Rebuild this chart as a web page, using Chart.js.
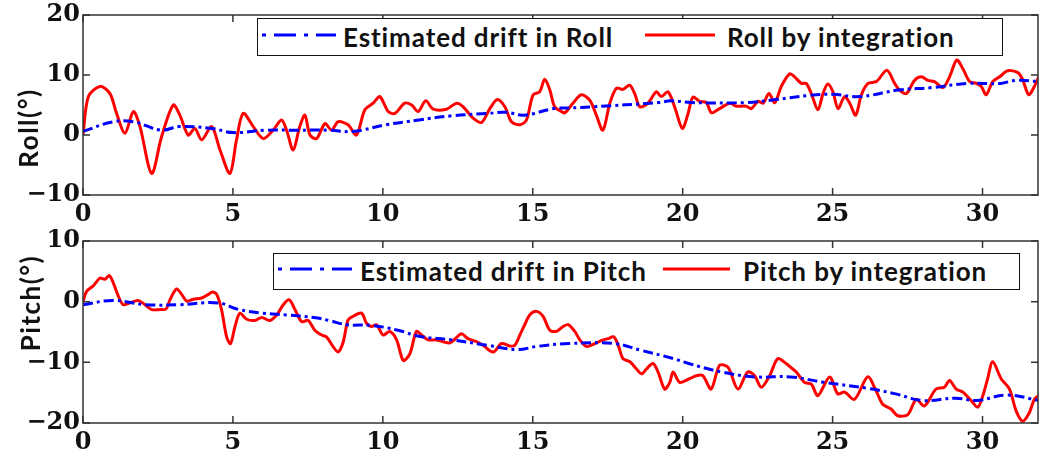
<!DOCTYPE html>
<html>
<head>
<meta charset="utf-8">
<script src="https://cdn.jsdelivr.net/npm/chart.js@4.4.0/dist/chart.umd.min.js"></script>
<style>
  body { margin: 0; background: #fff; }
  #wrap { position: relative; width: 1042px; height: 459px; overflow: hidden; }
  #wrap canvas { position: absolute; left: 0; top: 0; }
  .legend { position: absolute; border: 1.5px solid #111; background: #fff; box-sizing: border-box; z-index: 2; }
  .item { position: absolute; z-index: 3; font: bold 26px Lato, sans-serif; letter-spacing: 0.9px; color: #111; white-space: nowrap; line-height: 1; }
  .sample { position: absolute; z-index: 3; }
  .ytitle { position: absolute; width: 200px; height: 30px; display: flex; align-items: center; justify-content: center;
            font: bold 26px Lato, sans-serif; letter-spacing: 1.5px; color: #111; transform: rotate(-90deg); white-space: nowrap; }
</style>
</head>
<body>
<div id="wrap">
  <canvas id="rollChart" width="1042" height="459"></canvas>
  <canvas id="pitchChart" width="1042" height="459"></canvas>

  <div class="ytitle" style="left:-72px; top:113px;">Roll(°)</div>
  <div class="ytitle" style="left:-70px; top:288px;">Pitch(°)</div>

  <div class="legend" style="left:257px; top:18px; width:746px; height:38px;"></div>
  <svg class="sample" style="left:262px; top:30px;" width="74" height="10"><line x1="0" y1="5" x2="74" y2="5" stroke="#0000ff" stroke-width="3" stroke-dasharray="4 8 22 8"/></svg>
  <div class="item" style="left:343px; top:24px;">Estimated drift in Roll</div>
  <svg class="sample" style="left:645px; top:30px;" width="70" height="10"><line x1="0" y1="5" x2="70" y2="5" stroke="#ff0000" stroke-width="3"/></svg>
  <div class="item" style="left:727px; top:24px;">Roll by integration</div>

  <div class="legend" style="left:273px; top:253px; width:747px; height:37px;"></div>
  <svg class="sample" style="left:278px; top:264px;" width="74" height="10"><line x1="0" y1="5" x2="74" y2="5" stroke="#0000ff" stroke-width="3" stroke-dasharray="4 8 22 8"/></svg>
  <div class="item" style="left:360px; top:258px;">Estimated drift in Pitch</div>
  <svg class="sample" style="left:663px; top:264px;" width="67" height="10"><line x1="0" y1="5" x2="67" y2="5" stroke="#ff0000" stroke-width="3"/></svg>
  <div class="item" style="left:743px; top:258px;">Pitch by integration</div>
</div>

<script>
// Time axis (s) and values (deg)
const rollIntT = [0, 0.18, 0.57, 0.9, 1.12, 1.4, 1.68, 1.9, 2.29, 2.62, 3.01, 3.23, 3.51, 3.73, 3.96, 4.29, 4.57, 4.9,
  5.12, 5.34, 5.68, 6.01, 6.34, 6.62, 6.79, 7.01, 7.23, 7.4, 7.57, 7.79, 8.07, 8.29, 8.51, 8.84, 9.12, 9.4, 9.68, 9.9,
  10.18, 10.4, 10.73, 10.96, 11.18, 11.43, 11.68, 12.12, 12.46, 12.68, 13.01, 13.29, 13.57, 13.82, 14.07, 14.29, 14.57,
  14.79, 15.01, 15.23, 15.4, 15.57, 15.73, 15.96, 16.07, 16.34, 16.62, 16.9, 17.12, 17.34, 17.57, 17.79, 18.01, 18.23,
  18.4, 18.57, 18.84, 19.12, 19.29, 19.51, 19.73, 19.99, 20.18, 20.34, 20.57, 20.79, 20.96, 21.23, 21.57, 21.79, 22.12,
  22.29, 22.51, 22.68, 22.88, 23.07, 23.29, 23.57, 23.73, 23.96, 24.12, 24.29, 24.51, 24.68, 24.84, 25.01, 25.18, 25.4,
  25.57, 25.77, 25.96, 26.18, 26.46, 26.81, 27.07, 27.23, 27.46, 27.73, 27.96, 28.18, 28.4, 28.68, 28.9, 29.14, 29.34,
  29.57, 29.79, 29.96, 30.12, 30.34, 30.57, 30.84, 31.18, 31.34, 31.54, 31.73, 31.9];
const rollInt = [0, 6.4, 8.1, 6.9, 3.6, 0.3, 3.9, 1.4, -6.4, -0.3, 5.0, 3.3, 0, 1.1, -0.8, 1.4, -2.5, -6.4,
  -0.8, 3.6, 1.4, -0.6, 0.8, 2.5, 0.8, -2.5, 1.4, 3.3, 0, -0.6, 1.9, 0.8, 2.2, 1.7, 0, 4.2, 5.3, 6.4,
  3.9, 3.6, 5.3, 5.0, 3.9, 5.7, 4.3, 4.3, 5.3, 4.7, 2.8, 2.1, 4.4, 5.9, 4.7, 2.2, 1.7,
  2.5, 6.7, 7.2, 9.3, 7.5, 4.7, 3.9, 3.7, 5.3, 6.7, 5.8, 3.3, 0.8, 5.3, 7.8, 7.6, 8.3,
  6.9, 4.7, 5.3, 7.2, 6.4, 7.2, 4.7, 1.1, 3.6, 6.3, 5.6, 5.4, 3.7, 4.4, 5.3, 4.8, 4.8,
  4.4, 5.6, 5.3, 6.9, 5.4, 8.1, 10.2, 9.7, 8.6, 8.6, 6.9, 4.2, 6.9, 8.5, 7.2, 4.4, 6.4,
  5.3, 3.3, 6.7, 8.6, 8.9, 10.8, 8.6, 7.5, 6.9, 9.1, 9.7, 9.1, 8.9, 7.9, 9.7, 12.5, 11.1,
  8.9, 8.6, 8.1, 6.7, 8.9, 9.7, 10.7, 10.4, 9.2, 6.7, 8.1, 10.0];

const rollDriftT = [0, 1.0, 1.7, 2.6, 3.2, 4.3, 5.0, 6.1, 7.1, 8.2, 9.0, 10.1, 11.2, 12.3, 13.5, 14.1, 14.7, 15.7,
  16.2, 17.0, 19.2, 19.6, 20.3, 22.1, 23.1, 24.2, 25.0, 25.9, 27.2, 28.3, 29.5, 30.6, 31.1, 31.9];
const rollDrift = [0.6, 2.2, 2.2, 0.8, 1.4, 1.1, 0.4, 0.8, 0.8, 0.8, 0.6, 1.7, 2.5, 3.2, 3.6, 3.8, 3.3, 4.4,
  4.5, 4.7, 5.4, 5.7, 5.4, 5.4, 5.9, 6.6, 6.8, 6.4, 7.5, 7.9, 8.6, 8.6, 9.1, 8.9];

const pitchIntT = [0, 0.12, 0.34, 0.57, 0.73, 0.88, 1.01, 1.18, 1.34, 1.57, 1.84, 2.07, 2.29, 2.57, 2.77, 2.9, 3.12,
  3.29, 3.46, 3.68, 3.96, 4.18, 4.32, 4.46, 4.62, 4.79, 4.92, 5.07, 5.23, 5.46, 5.73, 5.96, 6.23, 6.46, 6.68, 6.88,
  7.07, 7.29, 7.51, 7.73, 7.96, 8.12, 8.34, 8.51, 8.68, 8.84, 9.01, 9.29, 9.46, 9.62, 9.79, 10.01, 10.23, 10.46,
  10.68, 10.9, 11.12, 11.29, 11.51, 11.79, 12.01, 12.23, 12.4, 12.62, 12.84, 13.12, 13.34, 13.68, 13.96, 14.23,
  14.4, 14.57, 14.73, 14.9, 15.12, 15.34, 15.57, 15.79, 16.01, 16.18, 16.4, 16.57, 16.79, 17.07, 17.35, 17.51,
  17.7, 17.85, 18.01, 18.24, 18.46, 18.63, 18.79, 19.01, 19.18, 19.4, 19.57, 19.68, 19.9, 20.23, 20.45, 20.67,
  20.95, 21.23, 21.51, 21.84, 22.17, 22.4, 22.62, 22.9, 23.17, 23.45, 23.67, 23.79, 24.06, 24.29, 24.51, 24.9,
  25.17, 25.4, 25.73, 26.17, 26.45, 26.67, 26.95, 27.17, 27.51, 27.79, 28.06, 28.45, 28.73, 28.9, 29.12, 29.34,
  29.62, 29.84, 30.01, 30.17, 30.34, 30.62, 30.9, 31.12, 31.34, 31.56, 31.73, 31.96];
const pitchInt = [0, 1.7, 2.6, 3.9, 3.7, 4.3, 3.1, 0.9, -0.5, -0.2, 0.2, -0.5, -1.3, -1.3, -1.2, 0.3, 2.1,
  1.2, 0.1, 0.4, 0.6, 1.2, 1.6, 1.2, -1.3, -5.8, -6.9, -4.1, -1.9, -2.9, -3.1, -2.6, -3.1, -2.2, -0.5, 0.3,
  -1.3, -3.3, -3.1, -4.7, -5.5, -5.8, -7.4, -8.3, -6.6, -3.0, -2.4, -1.9, -3.6, -4.1, -3.8, -5.5, -4.9, -6.3,
  -9.7, -8.6, -4.9, -5.5, -6.3, -6.3, -6.6, -6.8, -6.2, -5.3, -6.1, -6.6, -7.2, -8.3, -6.9, -7.3,
  -7.2, -5.5, -3.8, -2.2, -1.6, -2.4, -4.7, -4.9, -4.1, -3.8, -4.9, -6.3, -7.4, -6.9, -6.3, -6.1,
  -5.8, -7.2, -9.4, -9.9, -11.1, -11.9, -11.1, -10.2, -11.6, -14.4, -13.3, -11.6, -13.3, -12.7, -12.2, -12.2,
  -14.4, -10.5, -10.8, -14.4, -11.6, -12.2, -14.1, -12.2, -9.4, -10.2, -11.1, -11.6, -13.3, -13.6, -15.5, -12.4,
  -15.2, -14.9, -16.1, -12.4, -14.7, -16.9, -17.7, -18.8, -18.6, -16.1, -17.2, -14.4, -14.1, -13.0, -14.4, -14.9,
  -16.3, -17.4, -15.5, -12.7, -9.9, -12.7, -14.4, -18.0, -19.7, -18.3, -16.1, -15.2];

const pitchDriftT = [0, 1.0, 2.1, 3.2, 4.5, 5.2, 6.0, 6.8, 7.7, 8.2, 8.8, 9.6, 10.5, 11.2, 12.3, 13.5, 14.5, 15.1,
  16.2, 17.7, 18.6, 19.7, 20.2, 21.3, 22.4, 23.6, 24.7, 26.2, 27.1, 28.0, 29.1, 29.8, 30.8, 31.9];
const pitchDrift = [-0.5, 0.2, -0.5, -0.5, -0.2, -1.3, -1.9, -2.2, -2.6, -3.1, -3.8, -3.9, -4.7, -5.7, -6.3, -7.2, -7.9, -7.4,
  -6.9, -6.9, -8.0, -9.4, -10.2, -11.6, -12.4, -12.4, -13.3, -14.3, -15.2, -16.3, -15.9, -16.3, -15.4, -16.3];

const xTicksStep = 5;
const rollRange = [-10, 20];
const pitchRange = [-20, 10];
const xMax = 31.85;

function pts(xs, ys) { return xs.map((x, i) => ({ x: x, y: ys[i] })); }
function fmt(v) { return String(v).replace('-', '\u2212'); }

// box + inward tick marks, matlab style
const framePlugin = {
  id: 'frame',
  afterDatasetsDraw(chart) {
    const { ctx, chartArea: a } = chart;
    const xs = chart.scales.x, ys = chart.scales.y;
    const len = 7;
    ctx.save();
    ctx.strokeStyle = '#333';
    ctx.lineWidth = 1.5;
    ctx.strokeRect(a.left, a.top, a.right - a.left, a.bottom - a.top);
    ctx.beginPath();
    xs.ticks.forEach(t => {
      const p = xs.getPixelForValue(t.value);
      ctx.moveTo(p, a.bottom); ctx.lineTo(p, a.bottom - len);
      ctx.moveTo(p, a.top); ctx.lineTo(p, a.top + len);
    });
    ys.ticks.forEach(t => {
      const p = ys.getPixelForValue(t.value);
      ctx.moveTo(a.left, p); ctx.lineTo(a.left + len, p);
      ctx.moveTo(a.right, p); ctx.lineTo(a.right - len, p);
    });
    ctx.stroke();
    ctx.restore();
  }
};

const tickFont = { family: 'DejaVu Serif', size: 24, weight: 'bold', lineHeight: 1 };

function makeChart(id, driftData, intData, range, pad, xHeight) {
  return new Chart(document.getElementById(id), {
    type: 'line',
    data: {
      datasets: [
        {
          data: driftData,
          borderColor: '#0000ff',
          borderWidth: 3,
          borderDash: [10, 4, 3, 4],
          pointRadius: 0,
          tension: 0.4
        },
        {
          data: intData,
          borderColor: '#ff0000',
          borderWidth: 3,
          pointRadius: 0,
          tension: 0.3
        }
      ]
    },
    options: {
      responsive: false,
      animation: false,
      devicePixelRatio: 1,
      layout: { padding: pad },
      plugins: { legend: { display: false }, tooltip: { enabled: false } },
      scales: {
        x: {
          type: 'linear',
          min: 0,
          max: xMax,
          grid: { display: false, drawTicks: false },
          border: { display: false },
          ticks: { stepSize: xTicksStep, includeBounds: false, maxRotation: 0, padding: 8, color: '#111', font: tickFont, callback: fmt },
          afterFit(s) { s.height = xHeight; }
        },
        y: {
          min: range[0],
          max: range[1],
          grid: { display: false, drawTicks: false },
          border: { display: false },
          ticks: { stepSize: 10, padding: 3, color: '#111', font: tickFont, callback: fmt },
          afterFit(s) { s.width = 83; }
        }
      }
    },
    plugins: [framePlugin]
  });
}

makeChart('rollChart', pts(rollDriftT, rollDrift), pts(rollIntT, rollInt), rollRange,
  { top: 14, right: 4, bottom: 230, left: 0 }, 34);
makeChart('pitchChart', pts(pitchDriftT, pitchDrift), pts(pitchIntT, pitchInt), pitchRange,
  { top: 241, right: 4, bottom: 0, left: 0 }, 36);
</script>
</body>
</html>
